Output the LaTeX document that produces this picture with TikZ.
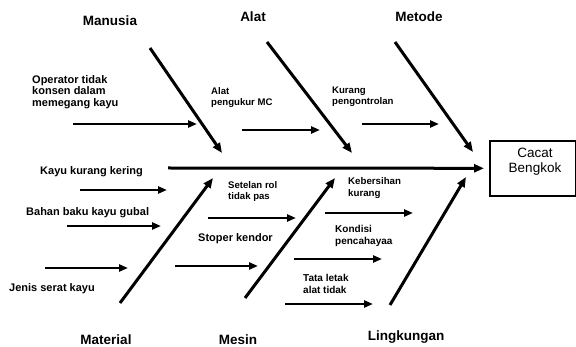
\documentclass[tikz,border=0pt]{standalone}
\usepackage{fontspec}
\setmainfont{Liberation Sans}
\usetikzlibrary{arrows.meta}

\begin{document}
\begin{tikzpicture}[x=1pt,y=-1pt,
        bone/.style={line width=3pt,-{Triangle[length=10pt,width=8pt]}},
        cause/.style={line width=2.6pt,-{Triangle[length=9pt,width=7pt]}},
        category/.style={font=\bfseries\fontsize{13.5}{15}\selectfont,inner sep=0pt,anchor=base},
        causetext/.style={font=\bfseries\fontsize{#1}{11.8}\selectfont,inner sep=0pt,anchor=north west,align=left},
        causetext/.default=10]
        \useasboundingbox (0,0) rectangle (576,347);

        % head
        \node[draw,line width=1.6pt,minimum width=86pt,minimum height=55pt,anchor=north west,inner sep=0pt] (effect) at (489,140) {};
        \node[font=\fontsize{13.5}{15}\selectfont,align=center,inner sep=0pt,anchor=north] (effecttext) at (535,148) {Cacat\\Bengkok};

        % spine
        \coordinate (tail) at (168,168);
        \draw[bone] (tail) -- ([xshift=-5pt]effect.west);

        % categories
        \node[category] (manusia) at (110,26) {Manusia};
        \node[category] (alat) at (253,22) {Alat};
        \node[category] (metode) at (419,22) {Metode};
        \node[category] (material) at (106,344.5) {Material};
        \node[category] (mesin) at (238,344.5) {Mesin};
        \node[category] (lingkungan) at (406,341) {Lingkungan};

        % bones
        \coordinate (manA) at (150,48);  \coordinate (manB) at (222,153);
        \coordinate (alaA) at (267,42);  \coordinate (alaB) at (352,153);
        \coordinate (metA) at (395,42);  \coordinate (metB) at (473,152);
        \coordinate (matA) at (120,303); \coordinate (matB) at (213,178);
        \coordinate (mesA) at (245,298); \coordinate (mesB) at (335,178);
        \coordinate (linA) at (390,305); \coordinate (linB) at (466,177);
        \draw[bone] (manA) -- (manB);
        \draw[bone] (alaA) -- (alaB);
        \draw[bone] (metA) -- (metB);
        \draw[bone] (matA) -- (matB);
        \draw[bone] (mesA) -- (mesB);
        \draw[bone] (linA) -- (linB);

        % causes
        \node[causetext=11] (operator) at (32,75) {Operator tidak\\konsen dalam\\memegang kayu};
        \node[causetext=9.6,font=\bfseries\fontsize{9.6}{11}\selectfont] (pengukur) at (211,87.5) {Alat\\pengukur MC};
        \node[causetext=9.6,font=\bfseries\fontsize{9.6}{10.4}\selectfont] (kontrol) at (332,87) {Kurang\\pengontrolan};
        \node[causetext=11] (kering) at (40,166) {Kayu kurang kering};
        \node[causetext=11] (gubal) at (26,207) {Bahan baku kayu gubal};
        \node[causetext=11] (serat) at (9,283) {Jenis serat kayu};
        \node[causetext=9.6] (setelan) at (228,181) {Setelan rol\\tidak pas};
        \node[causetext=11] (stoper) at (198,233) {Stoper kendor};
        \node[causetext=9.7] (bersih) at (348,177) {Kebersihan\\kurang};
        \node[causetext=10] (cahaya) at (335,225) {Kondisi\\pencahayaa};
        \node[causetext=10] (tata) at (303,274) {Tata letak\\alat tidak};

        \coordinate (opA) at (73,124);   \coordinate (opB) at (197,124);
        \coordinate (peA) at (242,130);  \coordinate (peB) at (320,130);
        \coordinate (koA) at (362,124);  \coordinate (koB) at (439,124);
        \coordinate (keA) at (80,190);   \coordinate (keB) at (167,190);
        \coordinate (guA) at (67,226);   \coordinate (guB) at (161,226);
        \coordinate (seA) at (45,268);   \coordinate (seB) at (128,268);
        \coordinate (rolA) at (208,218); \coordinate (rolB) at (296,218);
        \coordinate (stA) at (175,266);  \coordinate (stB) at (258,266);
        \coordinate (beA) at (325,213);  \coordinate (beB) at (413,213);
        \coordinate (caA) at (294,259);  \coordinate (caB) at (382,259);
        \coordinate (taA) at (285,304);  \coordinate (taB) at (373,304);
        \draw[cause] (opA) -- (opB);
        \draw[cause] (peA) -- (peB);
        \draw[cause] (koA) -- (koB);
        \draw[cause] (keA) -- (keB);
        \draw[cause] (guA) -- (guB);
        \draw[cause] (seA) -- (seB);
        \draw[cause] (rolA) -- (rolB);
        \draw[cause] (stA) -- (stB);
        \draw[cause] (beA) -- (beB);
        \draw[cause] (caA) -- (caB);
        \draw[cause] (taA) -- (taB);
    \end{tikzpicture}
\end{document}
